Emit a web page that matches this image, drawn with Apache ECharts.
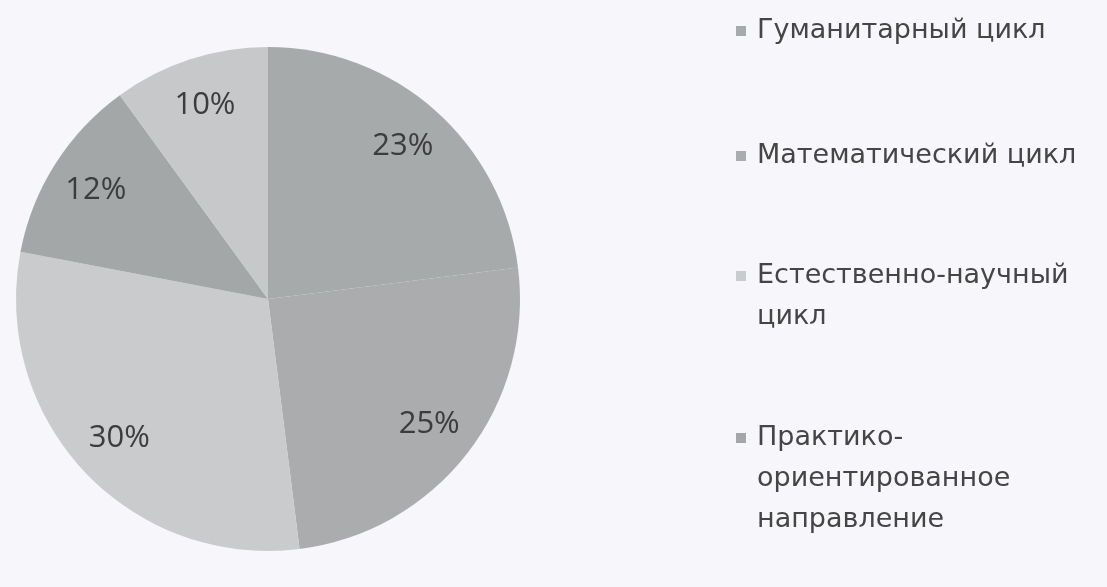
<!DOCTYPE html>
<html>
<head>
<meta charset="utf-8">
<script src="https://cdn.jsdelivr.net/npm/echarts@6/dist/echarts.min.js"></script>
<style>
  html, body { margin: 0; background: #f7f6fa; }
  #main { width: 1107px; height: 587px; }
</style>
</head>
<body>
<div id="main"></div>
<script>
// slices clockwise from 12 o'clock
var names = ['Гуманитарный цикл', 'Математический цикл', 'Естественно-научный цикл',
  'Практико-ориентированное направление', 'Прочее'];
var values = [23, 25, 30, 12, 10];
// legend text as it wraps in the picture (only the first four are visible)
var legendLines = [
  ['Гуманитарный цикл'],
  ['Математический цикл'],
  ['Естественно-научный', 'цикл'],
  ['Практико-', 'ориентированное', 'направление']
];
var colors = ['#a7aaab', '#aaacad', '#c9cbcc', '#a4a7a8', '#c6c8c9'];

var chart = echarts.init(document.getElementById('main'));

var lineH = 41;
var firstLineY = [31, 156, 276, 438];

// one legend per entry; blank lines on top keep the marker on the first text line
var legends = legendLines.map(function (lines, i) {
  var n = lines.length;
  var pad = [];
  for (var k = 1; k < n; k++) pad.push(' ');
  var text = pad.concat(lines).join('\n');
  return {
    orient: 'vertical',
    left: 736,
    top: firstLineY[i] - (2 * n - 1) * lineH / 2,
    padding: 0,
    icon: 'rect',
    itemWidth: 10,
    itemHeight: 10,
    selectedMode: false,
    data: [names[i]],
    formatter: function () { return text; },
    textStyle: {
      fontFamily: 'DejaVu Sans',
      fontSize: 27,
      color: '#454545',
      lineHeight: lineH,
      padding: [0, 0, 0, 6]
    }
  };
});

var pieData = names.map(function (n, i) {
  return { name: n, value: values[i], itemStyle: { color: colors[i] } };
});

var option = {
  backgroundColor: '#f7f6fa',
  animation: false,
  legend: legends,
  series: [
    {
      type: 'pie',
      center: [268, 299],
      radius: 252,
      startAngle: 90,
      silent: true,
      label: { show: false },
      labelLine: { show: false },
      itemStyle: { borderWidth: 0 },
      data: pieData
    },
    {
      // transparent ring just to put the labels at ~0.8 of the radius
      type: 'pie',
      center: [268, 299],
      radius: [150, 252],
      startAngle: 90,
      silent: true,
      itemStyle: { color: 'transparent', borderWidth: 0 },
      label: {
        show: true,
        position: 'inside',
        formatter: '{c}%',
        fontFamily: 'Open Sans',
        fontSize: 31,
        color: '#3c3c3c'
      },
      labelLine: { show: false },
      data: names.map(function (n, i) { return { name: n, value: values[i] }; })
    }
  ]
};

chart.setOption(option);
</script>
</body>
</html>
